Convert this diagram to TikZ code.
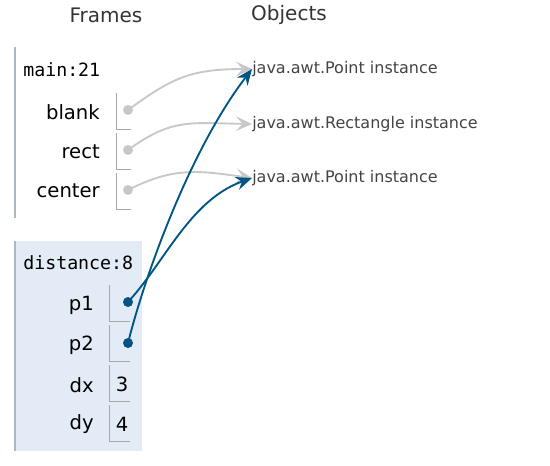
\documentclass[tikz,border=0pt]{standalone}
\usepackage{fontspec}
\setmainfont{DejaVu Sans}
\setmonofont{DejaVu Sans Mono}
\usetikzlibrary{arrows.meta, positioning}
\definecolor{ptblue}{HTML}{005583}
\definecolor{ptgray}{HTML}{C8C8C8}
\definecolor{framebg}{HTML}{E2EBF6}
\definecolor{frameline}{HTML}{A8B8C4}
\definecolor{boxline}{HTML}{A8A8A8}
\definecolor{objtext}{HTML}{444444}

\begin{document}
\begin{tikzpicture}[x=0.75pt, y=-0.75pt,
  header/.style={font=\fontsize{15}{17}\selectfont, text=black!80},
  fname/.style={anchor=west, inner sep=0pt, font=\ttfamily\fontsize{13.7}{15}\selectfont},
  vname/.style={anchor=east, inner sep=0pt, font=\fontsize{14.7}{16}\selectfont},
  val/.style={font=\fontsize{14.7}{16}\selectfont},
  obj/.style={anchor=west, inner sep=0pt, text=objtext, font=\fontsize{12}{14}\selectfont},
  gdot/.style={circle, fill=ptgray, inner sep=0pt, minimum size=7.5pt},
  bdot/.style={circle, fill=ptblue, inner sep=0pt, minimum size=7.5pt},
  gref/.style={draw=ptgray, line width=1.4pt, -{Stealth[length=12pt, width=11pt, inset=5pt]}},
  bref/.style={draw=ptblue, line width=1.4pt, -{Stealth[length=12pt, width=10pt, inset=4pt]}}]
\useasboundingbox (0,0) rectangle (550,465);

% headers
\node[header] (frames) at (106,15) {Frames};
\node[header] (objects) at (289,15) {Objects};

% frame main
\draw[frameline, line width=1pt] (15,47) -- (15,218);
\node[fname] (main) at (23,70) {main:21};
\node[vname] (blank) at (100,112) {blank};
\node[vname] (rect) at (100,152) {rect};
\node[vname] (center) at (100,191) {center};
\foreach \y in {93,133,173}
  \draw[boxline, line width=0.75pt] (116,\y) -- (116,\y+36) -- (131,\y+36);

% frame distance
\fill[framebg] (15,241) rectangle (142,451);
\draw[frameline, line width=1pt] (15,241) -- (15,451);
\node[fname] (dist) at (23,263) {distance:8};
\node[vname] (p1) at (94,305) {p1};
\node[vname] (p2) at (94,345) {p2};
\node[vname] (dx) at (94,385) {dx};
\node[vname] (dy) at (94,424) {dy};
\foreach \y in {285,325,365,405}
  \draw[boxline, line width=0.75pt] (109,\y) -- (109,\y+36) -- (130,\y+36);
\node[val] (vdx) at (122,384) {3};
\node[val] (vdy) at (122,424) {4};

% pointers
\node[gdot] (dblank) at (128,110) {};
\node[gdot] (drect) at (128,150) {};
\node[gdot] (dcenter) at (128,190) {};
\node[bdot] (dp1) at (128,302) {};
\node[bdot] (dp2) at (128,343) {};

% heap objects
\node[obj] (pt1) at (252,69) {java.awt.Point instance};
\node[obj] (rc) at (252,124) {java.awt.Rectangle instance};
\node[obj] (pt2) at (252,178) {java.awt.Point instance};

\draw[gref] (dblank.center) .. controls (172,78) and (190,69) .. (pt1.west);
\draw[gref] (drect.center) .. controls (172,118) and (190,123) .. (rc.west);
\draw[gref] (dcenter.center) .. controls (175,166) and (200,171) .. (pt2.west);
\draw[bref] (dp1.center) .. controls (165,262) and (190,200) .. (pt2.west);
\draw[bref] (dp2.center) .. controls (145,275) and (190,150) .. (pt1.west);
\end{tikzpicture}
\end{document}
